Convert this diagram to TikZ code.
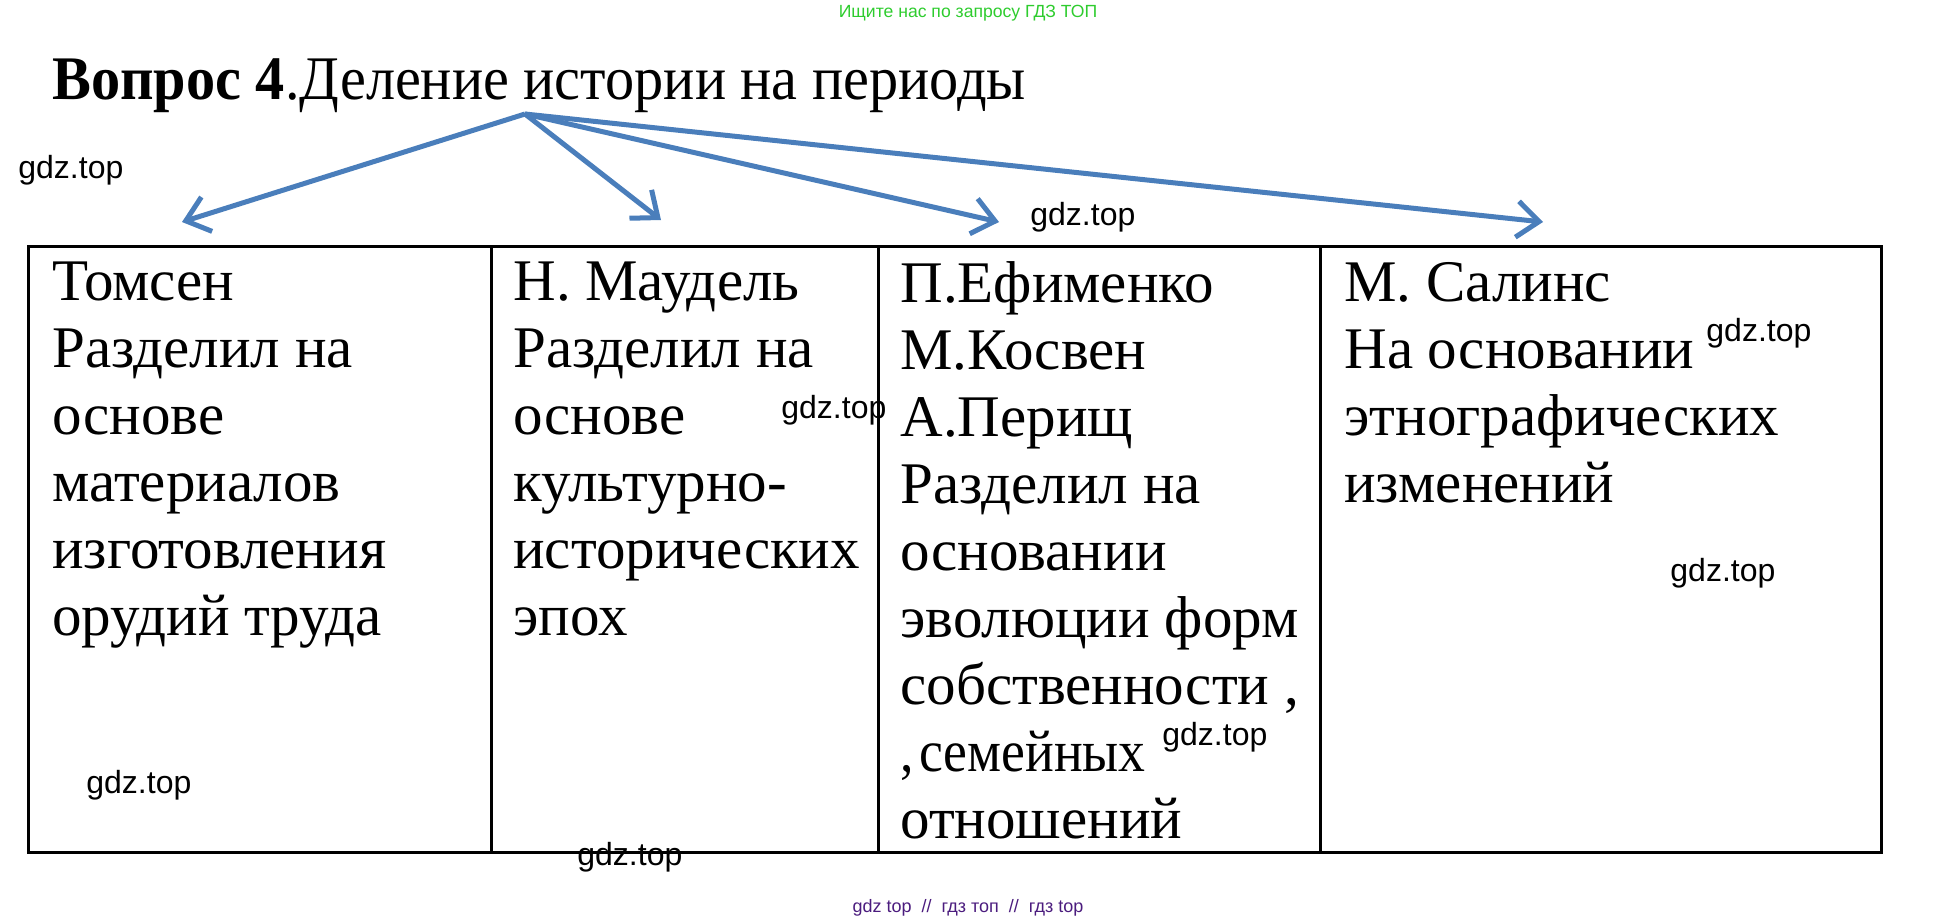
\documentclass[tikz,border=0pt]{standalone}
\usepackage{fontspec}
\setmainfont{Liberation Serif}
\newfontfamily\wmfont{Liberation Sans}
\usetikzlibrary{arrows.meta,positioning}
\definecolor{arrowblue}{HTML}{4A7EBB}
\definecolor{tipgreen}{HTML}{2ECC2E}
\definecolor{footviolet}{HTML}{4B1C7E}
\tikzset{
  cell/.style={draw, line width=1.5pt, anchor=north west, inner sep=0pt, outer sep=0pt, minimum height=303pt},
  celltext/.style={anchor=north west, align=left, inner sep=0pt, font=\fontsize{29.5}{33.5}\selectfont},
  watermark/.style={font=\wmfont\fontsize{16}{16}\selectfont, inner sep=0pt, anchor=west},
  branch/.style={arrowblue, line width=2.5pt, -{Straight Barb[length=11pt,width=18pt]}}
}
\begin{document}
\begin{tikzpicture}[x=0.5pt,y=-0.5pt]
  \useasboundingbox (0,0) rectangle (1938,921);
  % header
  \node[font=\wmfont\fontsize{8.8}{8.8}\selectfont, text=tipgreen] (tip) at (968,13) {Ищите нас по запросу ГДЗ ТОП};
  \node[anchor=base west, inner sep=0pt, font=\fontsize{31}{31}\selectfont] (title) at (52,99) {\scalebox{0.94}[1]{\textbf{Вопрос 4}.Деление истории на периоды}};
  \coordinate (src) at (525,114);
  % table
  \node[cell, minimum width=231.5pt] (c1) at (28,246) {};
  \node[cell, minimum width=193.5pt] (c2) at (c1.north east) {};
  \node[cell, minimum width=221pt] (c3) at (c2.north east) {};
  \node[cell, minimum width=280.5pt] (c4) at (c3.north east) {};
  \node[celltext, below right=7.8pt and 12pt of c1.north west] (txt1) {Томсен\\Разделил на\\основе\\материалов\\изготовления\\орудий труда};
  \node[celltext, below right=7.8pt and 11pt of c2.north west] (txt2) {Н. Маудель\\Разделил на\\основе\\культурно-\\исторических\\эпох};
  \node[celltext, below right=7.8pt and 11pt of c3.north west] (txt3) {П.Ефименко\\М.Косвен\\А.Перищ\\Разделил на\\основании\\эволюции форм\\собственности ,\\\scalebox{0.91}[1]{,\hspace{0.1em}семейных}\\отношений};
  \node[celltext, below right=7.8pt and 12pt of c4.north west] (txt4) {М. Салинс\\На основании\\этнографических\\изменений};
  % arrows
  \coordinate (t1) at (182,222);
  \coordinate (t2) at (661,220);
  \coordinate (t3) at (999,222);
  \coordinate (t4) at (1543,222);
  \foreach \t in {t1,t2,t3,t4}
    \draw[branch] (src) -- (\t);
  % watermarks
  \node[watermark] (w1) at (18,170) {gdz.top};
  \node[watermark] (w2) at (1030,217) {gdz.top};
  \node[watermark] (w3) at (781,410) {gdz.top};
  \node[watermark] (w4) at (1706,333) {gdz.top};
  \node[watermark] (w5) at (1670,573) {gdz.top};
  \node[watermark] (w6) at (1162,737) {gdz.top};
  \node[watermark] (w7) at (86,785) {gdz.top};
  \node[watermark] (w8) at (577,857) {gdz.top};
  \node[font=\wmfont\fontsize{9}{9}\selectfont, text=footviolet] (foot) at (968,908) {gdz top~~//~~гдз топ~~//~~гдз top};
\end{tikzpicture}
\end{document}
